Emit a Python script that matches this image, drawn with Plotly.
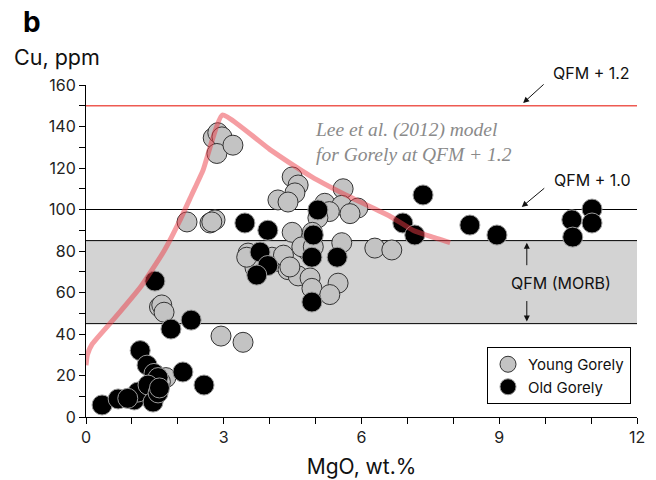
import plotly.graph_objects as go

# Young Gorely samples
young_mgo = [2.77, 2.87, 2.96, 2.85, 3.2,
             2.2, 2.7, 2.81, 2.74,
             1.6, 1.65, 1.7,
             2.94, 3.42,
             1.74, 1.62, 1.5,
             4.49, 4.62, 4.55, 4.18, 4.4, 5.2, 5.6, 5.57, 5.92, 5.75, 5.3, 5.05,
             4.49, 4.93, 5.57, 3.53, 3.68, 4.18, 4.4, 4.62, 4.88, 4.92, 5.49,
             5.31, 4.83, 4.7, 3.5, 4.05, 4.3, 4.95, 4.44, 6.29, 6.66]
young_cu = [134.5, 137, 135, 127, 131,
            94, 93.5, 95, 94,
            53, 54, 50.5,
            39, 36,
            19, 17, 10,
            115.7, 111.8, 108, 104.6, 103.6, 103, 110, 102, 100.7, 98, 99, 96,
            89, 89, 84, 79, 72, 75, 71, 68, 67, 62, 64.5,
            59, 80, 82, 77, 77, 78, 82, 72.3, 81.4, 80.5]

# Old Gorely samples
old_mgo = [0.35, 0.7, 1.05, 1.13, 1.18, 1.33, 1.48, 1.57, 1.35, 1.46, 1.57, 1.6,
           2.11, 2.57, 0.91, 1.5, 1.85, 2.29,
           3.46, 3.96, 3.79, 3.96, 3.72,
           5.05, 4.95, 4.92, 5.47, 4.92,
           7.34, 6.9, 7.16, 8.36, 8.95, 10.58, 11.02, 11.02, 10.6]
old_cu = [5.8, 8.7, 8.2, 12, 32, 25, 21, 19, 15.4, 7.2, 11.6, 14,
          21.7, 15.4, 9, 65.5, 42.4, 46.7,
          93.5, 90, 79.5, 73, 68.4,
          99.8, 87.7, 77, 77, 55.4,
          107, 93.5, 87.7, 92.5, 87.7, 95, 100.2, 93.5, 86.7]

# Lee et al. (2012) fractionation model, QFM + 1.2
model_mgo = [0.0, 0.03, 0.13, 0.6, 1.2, 1.7, 2.05, 2.3, 2.55, 2.97,
             4.0, 4.9, 5.75, 6.6, 7.12, 7.5, 7.93]
model_cu = [25, 30, 35, 47, 63, 80, 95, 107, 119, 145.5,
            129, 116, 106, 97, 90, 87, 84]

# Reference Cu levels for different oxygen fugacities
qfm12_cu = 150
qfm10_cu = 100
morb_band = [45, 85]

x_ticks = [0, 3, 6, 9, 12]
y_ticks = [0, 20, 40, 60, 80, 100, 120, 140, 160]

FONT = "Inter"
TXT = "#111111"

# plot-area geometry (pixels)
W, H = 656, 480
ML, MR, MT, MB = 86, 19, 85, 63
PW, PH = W - ML - MR, H - MT - MB


def px_x(p):
    return (p - ML) / PW


def px_y(p):
    return (H - MB - p) / PH


fig = go.Figure()

fig.add_trace(go.Scatter(
    x=young_mgo, y=young_cu, mode="markers", name="Young Gorely",
    marker=dict(size=20, color="#c3c3c3", line=dict(color="#333333", width=1)),
    cliponaxis=False,
))
fig.add_trace(go.Scatter(
    x=old_mgo, y=old_cu, mode="markers", name="Old Gorely",
    marker=dict(size=20, color="#000000", line=dict(color="#9a9a9a", width=1)),
    cliponaxis=False,
))
fig.add_trace(go.Scatter(
    x=model_mgo, y=model_cu, mode="lines", showlegend=False,
    line=dict(color="rgba(235,60,70,0.5)", width=5, shape="spline", smoothing=0.4),
    hoverinfo="skip",
))

# MORB band and fO2 reference lines
fig.add_shape(type="rect", xref="x", yref="y", x0=0, x1=12,
              y0=morb_band[0], y1=morb_band[1],
              fillcolor="#d3d3d3", line=dict(width=0), layer="below")
for yv in morb_band + [qfm10_cu]:
    fig.add_shape(type="line", xref="x", yref="y", x0=0, x1=12, y0=yv, y1=yv,
                  line=dict(color="#000000", width=1), layer="below")
fig.add_shape(type="line", xref="x", yref="y", x0=0, x1=12,
              y0=qfm12_cu, y1=qfm12_cu,
              line=dict(color="#ee5a52", width=1.5), layer="below")

ann_font = dict(family=FONT, size=16, color=TXT)
arrow = dict(showarrow=True, text="", arrowhead=2, arrowsize=1.2,
             arrowwidth=1, arrowcolor=TXT)

fig.add_annotation(x=px_x(551), y=px_y(73), xref="paper", yref="paper",
                   text="QFM + 1.2", showarrow=False, xanchor="left",
                   yanchor="middle", font=ann_font)
fig.add_annotation(x=9.52, y=151.3, xref="x", yref="y", ax=22, ay=-20, **arrow)

fig.add_annotation(x=10.15, y=114.2, xref="x", yref="y", text="QFM + 1.0",
                   showarrow=False, xanchor="left", yanchor="middle", font=ann_font)
fig.add_annotation(x=9.49, y=101.2, xref="x", yref="y", ax=24, ay=-20, **arrow)

fig.add_annotation(x=10.34, y=64.6, xref="x", yref="y", text="QFM (MORB)",
                   showarrow=False, xanchor="center", yanchor="middle", font=ann_font)
fig.add_annotation(x=9.6, y=84.0, xref="x", yref="y", ax=0, ay=24, **arrow)
fig.add_annotation(x=9.6, y=46.0, xref="x", yref="y", ax=0, ay=-22, **arrow)

fig.add_annotation(x=4.94, y=132.3, xref="x", yref="y",
                   text="<i>Lee et al. (2012) model<br>for Gorely at QFM + 1.2</i>",
                   showarrow=False, xanchor="left", yanchor="middle", align="left",
                   font=dict(family="Liberation Serif", size=19.5, color="#8a8a8a"))

# Panel letter and y-axis title
fig.add_annotation(x=px_x(22), y=px_y(22), xref="paper", yref="paper",
                   text="<b>b</b>", showarrow=False, xanchor="left", yanchor="middle",
                   borderpad=0,
                   font=dict(family=FONT, size=28, color="#000000"))
fig.add_annotation(x=px_x(57), y=px_y(57), xref="paper", yref="paper",
                   text="Cu, ppm", showarrow=False, xanchor="center", yanchor="middle",
                   font=dict(family=FONT, size=21.5, color=TXT))

fig.update_layout(
    width=W, height=H,
    margin=dict(l=ML, r=MR, t=MT, b=MB),
    paper_bgcolor="white", plot_bgcolor="white",
    font=dict(family=FONT, size=16, color="#222222"),
    showlegend=True,
    legend=dict(x=px_x(487), y=px_y(404), xanchor="left", yanchor="bottom",
                bordercolor="#000000", borderwidth=1, bgcolor="white",
                font=dict(family=FONT, size=15, color=TXT),
                itemsizing="trace", tracegroupgap=4),
    xaxis=dict(range=[0, 12], tickvals=x_ticks, ticks="outside", ticklen=6,
               tickcolor="#000000", showline=True, linecolor="#000000",
               linewidth=1, showgrid=False, zeroline=False, automargin=False,
               tickfont=dict(size=16),
               minor=dict(dtick=1, ticks="outside", ticklen=6, tickcolor="#000000"),
               title=dict(text="MgO, wt.%", font=dict(family=FONT, size=21, color=TXT),
                          standoff=13)),
    yaxis=dict(range=[0, 160], tickvals=y_ticks, ticks="outside", ticklen=6,
               tickcolor="#000000", showline=True, linecolor="#000000",
               linewidth=1, showgrid=False, zeroline=False, automargin=False,
               tickfont=dict(size=16),
               minor=dict(dtick=10, ticks="outside", ticklen=6, tickcolor="#000000")),
)

fig.write_html("out.html")
